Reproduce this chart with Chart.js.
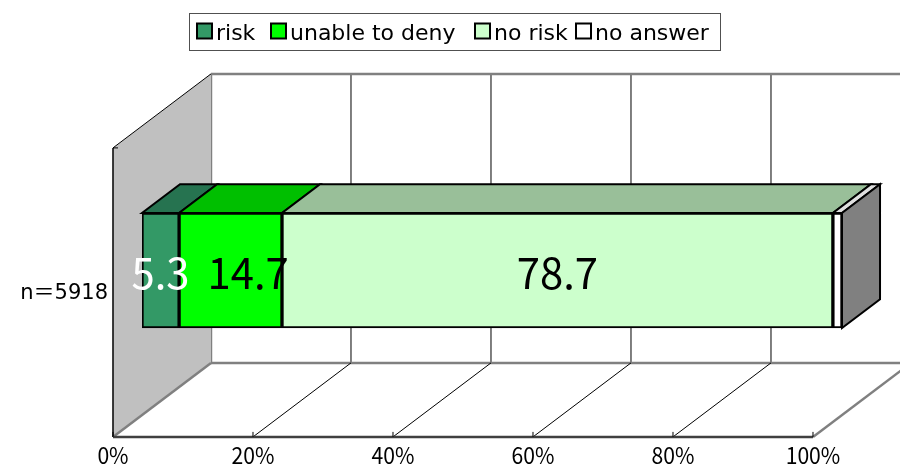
<!DOCTYPE html>
<html>
<head>
<meta charset="utf-8">
<script src="https://cdn.jsdelivr.net/npm/chart.js@4/dist/chart.umd.min.js"></script>
<style>
  html, body { margin: 0; padding: 0; background: #fff; }
  #c { display: block; }
</style>
</head>
<body>
<canvas id="c" width="900" height="467"></canvas>
<script>
// data
const categories = ['n＝5918'];
const seriesNames = ['risk', 'unable to deny', 'no risk', 'no answer'];
const risk = [5.3];
const unableToDeny = [14.7];
const noRisk = [78.7];
const noAnswer = [1.3];
const xTicks = [0, 20, 40, 60, 80, 100];

const frontColors = ['#339966', '#00ff00', '#ccffcc', '#ffffff'];
const topColors = ['#267350', '#00bf00', '#99bf99', '#e0e0e0'];
const labelColors = ['#ffffff', '#000000', '#000000', null];

const FONT = '"Noto Sans CJK JP", "Noto Sans", sans-serif';
const SMALL_FONT = '"DejaVu Sans", "Noto Sans CJK JP", sans-serif';

// oblique 3D: full depth shift, bar front / back depth
const DX = 98, DY = 74;
const T0 = 0.296, T1 = 0.684;

function proj(chart, v, yPix, t) {
  const x = chart.scales.x.getPixelForValue(v);
  return [x + (t - T0) * DX, yPix - (t - T0) * DY];
}

function poly(ctx, pts, fill, stroke, lw) {
  ctx.beginPath();
  ctx.moveTo(pts[0][0], pts[0][1]);
  for (let i = 1; i < pts.length; i++) ctx.lineTo(pts[i][0], pts[i][1]);
  ctx.closePath();
  if (fill) { ctx.fillStyle = fill; ctx.fill(); }
  if (stroke) { ctx.strokeStyle = stroke; ctx.lineWidth = lw; ctx.stroke(); }
}

function line(ctx, a, b, color, lw) {
  ctx.beginPath();
  ctx.moveTo(a[0], a[1]);
  ctx.lineTo(b[0], b[1]);
  ctx.strokeStyle = color;
  ctx.lineWidth = lw;
  ctx.stroke();
}

// narrow text, like the condensed gothic of the original
function narrowText(ctx, txt, x, y, sx) {
  ctx.save();
  ctx.translate(x, y);
  ctx.scale(sx, 1);
  ctx.fillText(txt, 0, 0);
  ctx.restore();
}

const walls3d = {
  id: 'walls3d',
  beforeDatasetsDraw(chart) {
    const ctx = chart.ctx;
    const top = chart.chartArea.top, bottom = chart.chartArea.bottom;
    ctx.save();
    // back wall
    poly(ctx, [proj(chart, 0, top, 1), proj(chart, 100, top, 1), proj(chart, 100, bottom, 1), proj(chart, 0, bottom, 1)], '#ffffff', null);
    xTicks.slice(1, -1).forEach(v => line(ctx, proj(chart, v, top, 1), proj(chart, v, bottom, 1), '#000000', 1));
    line(ctx, proj(chart, 0, top, 1), proj(chart, 100, top, 1), '#808080', 2.5);
    line(ctx, proj(chart, 0, bottom, 1), proj(chart, 100, bottom, 1), '#808080', 2.5);
    line(ctx, proj(chart, 0, top, 1), proj(chart, 0, bottom, 1), '#808080', 2.5);
    // floor
    xTicks.slice(1, -1).forEach(v => line(ctx, proj(chart, v, bottom, 0), proj(chart, v, bottom, 1), '#000000', 1));
    line(ctx, proj(chart, 100, bottom, 0), proj(chart, 100, bottom, 1), '#808080', 2.5);
    // left wall
    poly(ctx, [proj(chart, 0, top, 0), proj(chart, 0, top, 1), proj(chart, 0, bottom, 1), proj(chart, 0, bottom, 0)], '#c0c0c0', null);
    line(ctx, proj(chart, 0, top, 0), proj(chart, 0, top, 1), '#000000', 1);
    line(ctx, proj(chart, 0, bottom, 0), proj(chart, 0, bottom, 1), '#808080', 2.5);
    line(ctx, proj(chart, 0, top, 0), proj(chart, 0, bottom, 0), '#000000', 1.5);
    const ft = proj(chart, 0, top, 0);
    line(ctx, ft, [ft[0] + 5, ft[1]], '#000000', 1);
    // floor front edge with ticks and labels
    line(ctx, proj(chart, 0, bottom, 0), proj(chart, 100, bottom, 0), '#404040', 2.5);
    ctx.font = '23px ' + FONT;
    ctx.fillStyle = '#000000';
    ctx.textAlign = 'center';
    ctx.textBaseline = 'middle';
    xTicks.forEach(v => {
      const p = proj(chart, v, bottom, 0);
      line(ctx, [p[0], p[1]], [p[0], p[1] - 5], '#000000', 1);
      narrowText(ctx, v + '%', p[0], p[1] + 18, 0.92);
    });
    // category label
    ctx.textAlign = 'right';
    ctx.font = '21px ' + SMALL_FONT;
    const meta = chart.getDatasetMeta(0);
    categories.forEach((c, i) => {
      ctx.fillText(c, 108, meta.data[i].y + 23);
    });
    ctx.restore();
  },
  afterDatasetsDraw(chart) {
    const ctx = chart.ctx;
    ctx.save();
    const n = chart.data.datasets.length;
    for (let d = 0; d < n; d++) {
      chart.getDatasetMeta(d).data.forEach(el => {
        const x0 = el.base, x1 = el.x, yt = el.y - el.height / 2;
        const ox = (T1 - T0) * DX, oy = (T1 - T0) * DY;
        poly(ctx, [[x0, yt], [x1, yt], [x1 + ox, yt - oy], [x0 + ox, yt - oy]], topColors[d], '#000000', 2);
        if (d === n - 1) {
          const yb = el.y + el.height / 2;
          poly(ctx, [[x1, yt], [x1 + ox, yt - oy], [x1 + ox, yb - oy], [x1, yb]], '#808080', '#000000', 2);
        }
      });
    }
    // value labels, pushed right when they would touch the previous one
    ctx.font = '44px ' + FONT;
    ctx.textAlign = 'center';
    ctx.textBaseline = 'middle';
    let prevRight = -Infinity;
    for (let d = 0; d < n; d++) {
      if (!labelColors[d]) continue;
      const ds = chart.data.datasets[d];
      chart.getDatasetMeta(d).data.forEach((el, i) => {
        const txt = ds.data[i].toFixed(1);
        const w = ctx.measureText(txt).width * 0.95;
        let cx = (el.base + el.x) / 2;
        if (cx - w / 2 < prevRight + 18) cx = prevRight + 18 + w / 2;
        ctx.fillStyle = labelColors[d];
        narrowText(ctx, txt, cx, el.y + 2, 0.95);
        prevRight = cx + w / 2;
      });
    }
    ctx.restore();
  },
  afterDraw(chart) {
    // boxed legend on top
    const ctx = chart.ctx;
    const markerX = [197, 271, 475, 576];
    ctx.save();
    ctx.strokeStyle = '#505050';
    ctx.lineWidth = 1;
    ctx.strokeRect(189.5, 13.5, 531, 37);
    ctx.font = '22px ' + SMALL_FONT;
    ctx.textBaseline = 'alphabetic';
    ctx.textAlign = 'left';
    chart.data.datasets.forEach((ds, i) => {
      const x = markerX[i];
      ctx.fillStyle = frontColors[i];
      ctx.fillRect(x, 23.5, 15, 15);
      ctx.strokeStyle = '#000000';
      ctx.lineWidth = 2;
      ctx.strokeRect(x, 23.5, 15, 15);
      ctx.fillStyle = '#000000';
      ctx.fillText(ds.label, x + 19, 40);
    });
    ctx.restore();
  }
};

const values = [risk, unableToDeny, noRisk, noAnswer];

new Chart(document.getElementById('c'), {
  type: 'bar',
  data: {
    labels: categories,
    datasets: seriesNames.map((name, i) => ({
      label: name,
      data: values[i],
      backgroundColor: frontColors[i],
      borderColor: '#000000',
      borderWidth: 2,
      borderSkipped: false,
      barThickness: 115
    }))
  },
  options: {
    indexAxis: 'y',
    responsive: false,
    devicePixelRatio: 1,
    animation: false,
    layout: { padding: { left: 142, right: 58, top: 126, bottom: 52 } },
    scales: {
      x: { stacked: true, min: 0, max: 100, display: false },
      y: { stacked: true, display: false }
    },
    plugins: {
      legend: { display: false },
      tooltip: { enabled: false }
    }
  },
  plugins: [walls3d]
});
</script>
</body>
</html>
